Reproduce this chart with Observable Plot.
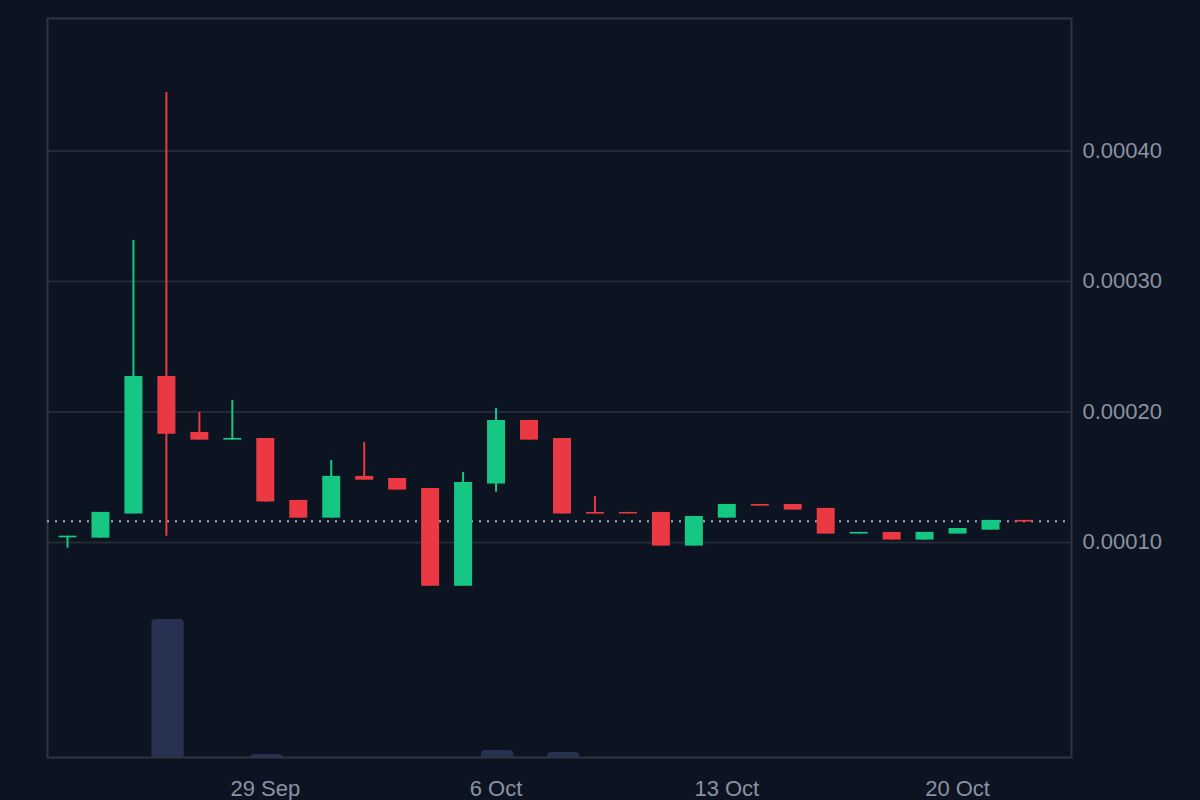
<!DOCTYPE html>
<html>
<head>
<meta charset="utf-8">
<script src="https://cdn.jsdelivr.net/npm/d3@7"></script>
<script src="https://cdn.jsdelivr.net/npm/@observablehq/plot@0.6"></script>
<style>
  html, body { margin: 0; padding: 0; background: #0d1421; }
  #wrap { position: relative; width: 1200px; height: 800px; background: #0d1421; }
  #wrap svg { position: absolute; left: 0; top: 0; }
</style>
</head>
<body>
<div id="wrap"></div>
<script>
const dates = ["2023-09-23","2023-09-24","2023-09-25","2023-09-26","2023-09-27","2023-09-28","2023-09-29","2023-09-30",
  "2023-10-01","2023-10-02","2023-10-03","2023-10-04","2023-10-05","2023-10-06","2023-10-07","2023-10-08","2023-10-09",
  "2023-10-10","2023-10-11","2023-10-12","2023-10-13","2023-10-14","2023-10-15","2023-10-16","2023-10-17","2023-10-18",
  "2023-10-19","2023-10-20","2023-10-21","2023-10-22"];
const open = [0.0001035,0.0001033,0.0001217,0.0002272,0.0001843,0.0001784,0.0001797,0.0001322,
  0.0001186,0.0001506,0.0001490,0.0001414,0.0000665,0.0001447,0.0001935,0.0001797,0.0001230,
  0.0001230,0.0001230,0.0000972,0.0001186,0.0001291,0.0001291,0.0001261,0.0001064,0.0001077,
  0.0001018,0.0001064,0.0001094,0.0001169];
const close = [0.0001048,0.0001230,0.0002272,0.0001830,0.0001784,0.0001797,0.0001309,0.0001186,
  0.0001506,0.0001477,0.0001401,0.0000665,0.0001460,0.0001935,0.0001784,0.0001217,0.0001217,
  0.0001218,0.0000972,0.0001199,0.0001291,0.0001278,0.0001248,0.0001064,0.0001077,0.0001018,
  0.0001077,0.0001107,0.0001169,0.0001156];
const high = [0.0001048,0.0001230,0.0003314,0.0004448,0.0001996,0.0002088,0.0001797,0.0001322,
  0.0001628,0.0001766,0.0001490,0.0001414,0.0001536,0.0002027,0.0001935,0.0001797,0.0001352,
  0.0001230,0.0001230,0.0001199,0.0001291,0.0001291,0.0001291,0.0001261,0.0001077,0.0001077,
  0.0001077,0.0001107,0.0001169,0.0001169];
const low = [0.0000956,0.0001033,0.0001217,0.0001048,0.0001784,0.0001784,0.0001309,0.0001186,
  0.0001186,0.0001477,0.0001401,0.0000665,0.0000665,0.0001385,0.0001784,0.0001217,0.0001217,
  0.0001218,0.0000972,0.0000972,0.0001186,0.0001278,0.0001248,0.0001064,0.0001064,0.0001018,
  0.0001018,0.0001064,0.0001094,0.0001156];
const volume = [0,0,0,2780,0,0,60,0,0,0,0,0,0,140,0,100,0,0,0,0,0,0,0,0,0,0,0,0,0,0];
const currentPrice = 0.0001163;
const yTicks = [0.0001, 0.0002, 0.0003, 0.0004];
const xTickLabels = ["2023-09-29","2023-10-06","2023-10-13","2023-10-20"];

const UP = "#16c784", DOWN = "#ea3943";
const rows = dates.map((d, i) => ({
  date: new Date(d + "T00:00:00Z"), open: open[i], close: close[i], high: high[i], low: low[i], volume: volume[i]
}));
const DAY = 86400000;
const xDomain = [new Date(Date.UTC(2023, 8, 23) - 0.607 * DAY), new Date(Date.UTC(2023, 9, 22) + 1.456 * DAY)];
const font = "'Liberation Sans', Arial, sans-serif";
const common = {
  width: 1200, height: 800,
  marginLeft: 47, marginRight: 129, marginTop: 18, marginBottom: 43,
  style: {background: "transparent", color: "#8a92a2", fontSize: "22px", fontFamily: font, overflow: "visible"}
};

const volPlot = Plot.plot({
  ...common,
  x: {type: "utc", domain: xDomain, axis: null},
  y: {domain: [0, 2780 * 739 / 138], axis: null},
  marks: [
    Plot.rectY(rows.filter(d => d.volume > 0), {
      x1: d => new Date(+d.date - 0.44 * DAY), x2: d => new Date(+d.date + 0.54 * DAY),
      y: "volume", fill: "#273152", rx: 4, insetBottom: -8, clip: true
    })
  ]
});

const pricePlot = Plot.plot({
  ...common,
  x: {type: "utc", domain: xDomain},
  y: {domain: [-0.0000648, 0.0005015]},
  marks: [
    Plot.gridY(yTicks, {stroke: "#242a36", strokeOpacity: 1, strokeWidth: 2}),
    Plot.frame({stroke: "#2f3541", strokeWidth: 2}),
    Plot.axisY(yTicks, {anchor: "right", tickSize: 0, tickPadding: 11, tickFormat: d3.format(".5f"), fill: "#8a92a2"}),
    Plot.axisX(xTickLabels.map(d => new Date(d + "T00:00:00Z")), {anchor: "bottom", tickSize: 0, tickPadding: 23, tickFormat: d3.utcFormat("%-d %b"), fill: "#8a92a2"}),
    Plot.ruleY([currentPrice], {x1: xDomain[0], x2: new Date(+xDomain[1] - 0.1 * DAY), stroke: "#a9afba", strokeWidth: 2, strokeDasharray: "2,6"}),
    Plot.ruleX(rows, {x: "date", y1: "low", y2: "high", stroke: d => d.close >= d.open ? UP : DOWN, strokeWidth: 2}),
    Plot.ruleX(rows, {x: "date", y1: "open", y2: "close", stroke: d => d.close >= d.open ? UP : DOWN, strokeWidth: 18})
  ]
});

const wrap = document.getElementById("wrap");
wrap.appendChild(volPlot);
wrap.appendChild(pricePlot);
</script>
</body>
</html>
